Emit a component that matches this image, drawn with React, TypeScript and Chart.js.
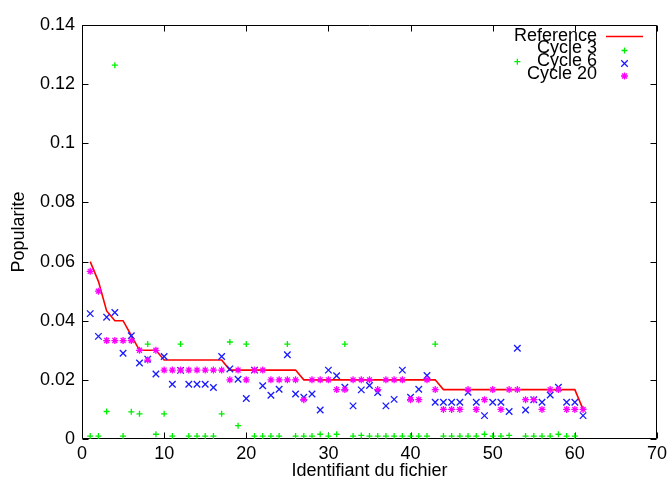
import React, { useEffect, useRef } from 'react';
import { Chart, registerables } from 'chart.js';
import { drawPoint } from 'chart.js/helpers';

Chart.register(...registerables);

const fileIds = [
  1, 2, 3, 4, 5, 6, 7, 8, 9, 10, 11, 12, 13, 14, 15, 16, 17, 18, 19, 20,
  21, 22, 23, 24, 25, 26, 27, 28, 29, 30, 31, 32, 33, 34, 35, 36, 37, 38, 39, 40,
  41, 42, 43, 44, 45, 46, 47, 48, 49, 50, 51, 52, 53, 54, 55, 56, 57, 58, 59, 60, 61,
];

const reference = [
  0.06, 0.0533, 0.0433, 0.04, 0.04, 0.035, 0.03, 0.03, 0.03, 0.0267,
  0.0267, 0.0267, 0.0267, 0.0267, 0.0267, 0.0267, 0.0267, 0.0233, 0.0233, 0.0233,
  0.0233, 0.0233, 0.0233, 0.0233, 0.0233, 0.0233, 0.02, 0.02, 0.02, 0.02,
  0.02, 0.02, 0.02, 0.02, 0.02, 0.02, 0.02, 0.02, 0.02, 0.02,
  0.02, 0.02, 0.02, 0.0167, 0.0167, 0.0167, 0.0167, 0.0167, 0.0167, 0.0167,
  0.0167, 0.0167, 0.0167, 0.0167, 0.0167, 0.0167, 0.0167, 0.0167, 0.0167, 0.0167, 0.01,
];

const cycle3 = [
  0.001, 0.001, 0.0093, 0.1264, 0.001, 0.0092, 0.0085, 0.0321, 0.0016, 0.0085,
  0.001, 0.0321, 0.001, 0.001, 0.001, 0.001, 0.0085, 0.0328, 0.0045, 0.0321,
  0.001, 0.001, 0.001, 0.001, 0.0321, 0.001, 0.001, 0.001, 0.0016, 0.001,
  0.0016, 0.0321, 0.001, 0.0012, 0.001, 0.001, 0.001, 0.001, 0.001, 0.001,
  0.001, 0.001, 0.0321, 0.001, 0.001, 0.001, 0.001, 0.001, 0.0016, 0.001,
  0.001, 0.0012, 0.1276, 0.001, 0.001, 0.001, 0.001, 0.0016, 0.001, 0.001, null,
];

const cycle6 = [
  0.0424, 0.0347, 0.0412, 0.0428, 0.029, 0.0349, 0.0257, 0.027, 0.022, 0.0279,
  0.0185, 0.0232, 0.0185, 0.0185, 0.0185, 0.0174, 0.0279, 0.0237, 0.0202, 0.0137,
  0.0233, 0.018, 0.0148, 0.0168, 0.0285, 0.0152, 0.0141, 0.0152, 0.0098, 0.0233,
  0.0214, 0.0175, 0.0112, 0.0166, 0.0181, 0.0157, 0.0112, 0.0134, 0.0233, 0.0141,
  0.0168, 0.0215, 0.0124, 0.0124, 0.0124, 0.0124, 0.0158, 0.0124, 0.0079, 0.0124,
  0.0124, 0.0093, 0.0307, 0.0098, 0.0133, 0.0124, 0.0149, 0.0175, 0.0124, 0.0124, 0.0079,
];

const cycle20 = [
  0.0567, 0.05, 0.0333, 0.0333, 0.0333, 0.0333, 0.03, 0.0267, 0.03, 0.0233,
  0.0233, 0.0233, 0.0233, 0.0233, 0.0233, 0.0233, 0.0233, 0.02, 0.0233, 0.02,
  0.0233, 0.0233, 0.02, 0.02, 0.02, 0.02, 0.0133, 0.02, 0.02, 0.02,
  0.0167, 0.0167, 0.02, 0.02, 0.02, 0.0167, 0.02, 0.02, 0.02, 0.0133,
  0.0133, 0.02, 0.0167, 0.01, 0.01, 0.01, 0.0167, 0.01, 0.0133, 0.0167,
  0.01, 0.0167, 0.0167, 0.0133, 0.0133, 0.01, 0.0167, 0.0167, 0.01, 0.01, 0.01,
];

const xTicks = [0, 10, 20, 30, 40, 50, 60, 70];
const yTicks = [0, 0.02, 0.04, 0.06, 0.08, 0.1, 0.12, 0.14];

const FONT = '"Liberation Sans", Arial, sans-serif';

const toPoints = (vals: (number | null)[]) =>
  fileIds.map((x, i) => ({ x, y: vals[i] }));

const framePlugin = {
  id: 'gnuFrame',
  beforeDatasetsDraw(chart: any) {
    const { ctx, chartArea: a, scales } = chart;
    ctx.save();
    ctx.strokeStyle = '#000';
    ctx.lineWidth = 1;
    const L = Math.round(a.left) + 0.5;
    const R = Math.round(a.right) - 0.5;
    const T = Math.round(a.top) + 0.5;
    const B = Math.round(a.bottom) - 0.5;
    ctx.beginPath();
    ctx.rect(L, T, R - L, B - T);
    ctx.stroke();
    const tl = 6;
    ctx.beginPath();
    xTicks.forEach((v) => {
      const px = Math.round(scales.x.getPixelForValue(v)) + 0.5;
      ctx.moveTo(px, B);
      ctx.lineTo(px, B - tl);
      ctx.moveTo(px, T);
      ctx.lineTo(px, T + tl);
    });
    yTicks.forEach((v) => {
      const py = Math.round(scales.y.getPixelForValue(v)) + 0.5;
      ctx.moveTo(L, py);
      ctx.lineTo(L + tl, py);
      ctx.moveTo(R, py);
      ctx.lineTo(R - tl, py);
    });
    ctx.stroke();
    ctx.restore();
  },
  afterDraw(chart: any) {
    const { ctx } = chart;
    const ds = chart.data.datasets;
    ctx.save();
    ctx.font = '18px ' + FONT;
    ctx.textAlign = 'right';
    ctx.textBaseline = 'middle';
    const textRight = 597;
    const rows = [36, 48.5, 61.5, 74];
    const sampleX1 = 606;
    const sampleX2 = 643;
    ds.forEach((d: any, i: number) => {
      ctx.fillStyle = '#000';
      ctx.fillText(d.label, textRight, rows[i]);
      if (i === 0) {
        ctx.strokeStyle = d.borderColor;
        ctx.lineWidth = d.borderWidth;
        ctx.beginPath();
        ctx.moveTo(sampleX1, 36.5);
        ctx.lineTo(sampleX2, 36.5);
        ctx.stroke();
      } else {
        ctx.strokeStyle = d.borderColor;
        ctx.fillStyle = d.borderColor;
        ctx.lineWidth = d.pointBorderWidth;
        drawPoint(
          ctx,
          { pointStyle: d.pointStyle, radius: d.pointRadius, rotation: 0, borderWidth: d.pointBorderWidth },
          (sampleX1 + sampleX2) / 2,
          rows[i] + 2
        );
      }
    });
    ctx.restore();
  },
};

export default function App() {
  const canvasRef = useRef<HTMLCanvasElement | null>(null);

  useEffect(() => {
    const canvas = canvasRef.current;
    if (!canvas) return;
    const chart = new Chart(canvas, {
      type: 'scatter',
      data: {
        datasets: [
          {
            label: 'Reference',
            data: toPoints(reference),
            showLine: true,
            borderColor: '#ff0000',
            backgroundColor: '#ff0000',
            borderWidth: 1.6,
            pointRadius: 0,
            tension: 0,
            order: 4,
          },
          {
            label: 'Cycle 3',
            data: toPoints(cycle3),
            showLine: false,
            borderColor: '#00ee00',
            backgroundColor: '#00ee00',
            pointStyle: 'cross',
            pointRadius: 3,
            pointBorderWidth: 1.3,
            borderWidth: 1,
            order: 3,
          },
          {
            label: 'Cycle 6',
            data: toPoints(cycle6),
            showLine: false,
            borderColor: '#1a1aff',
            backgroundColor: '#1a1aff',
            pointStyle: 'crossRot',
            pointRadius: 4.6,
            pointBorderWidth: 1.3,
            borderWidth: 1,
            order: 2,
          },
          {
            label: 'Cycle 20',
            data: toPoints(cycle20),
            showLine: false,
            borderColor: '#ff00ff',
            backgroundColor: '#ff00ff',
            pointStyle: 'star',
            pointRadius: 3.5,
            pointBorderWidth: 1.3,
            borderWidth: 1,
            order: 1,
          },
        ],
      },
      options: {
        animation: false,
        responsive: false,
        devicePixelRatio: 1,
        layout: { padding: { top: 25, right: 14, left: 0, bottom: 0 } },
        plugins: {
          legend: { display: false },
          tooltip: { enabled: false },
        },
        scales: {
          x: {
            type: 'linear',
            min: 0,
            max: 70,
            afterFit: (s: any) => {
              s.height = 38;
            },
            afterBuildTicks: (s: any) => {
              s.ticks = xTicks.map((v) => ({ value: v }));
            },
            grid: { display: false, drawTicks: false },
            border: { display: false },
            ticks: {
              padding: 4,
              color: '#000',
              font: { family: FONT, size: 18 },
              maxRotation: 0,
              callback: (v: any) => String(v),
            },
            title: {
              display: true,
              text: 'Identifiant du fichier',
              color: '#000',
              font: { family: FONT, size: 18, lineHeight: 1 },
              padding: { top: 0, bottom: -3 },
            },
          },
          y: {
            type: 'linear',
            min: 0,
            max: 0.14,
            afterFit: (s: any) => {
              s.width = 82;
            },
            afterBuildTicks: (s: any) => {
              s.ticks = yTicks.map((v) => ({ value: v }));
            },
            grid: { display: false, drawTicks: false },
            border: { display: false },
            ticks: {
              padding: 7,
              color: '#000',
              font: { family: FONT, size: 18 },
              callback: (v: any) => String(Number(Number(v).toFixed(2))),
            },
            title: {
              display: true,
              text: 'Popularite',
              color: '#000',
              font: { family: FONT, size: 18, lineHeight: 1 },
              padding: { top: 10, bottom: 0 },
            },
          },
        },
      },
      plugins: [framePlugin],
    } as any);
    return () => chart.destroy();
  }, []);

  return (
    <div style={{ position: 'fixed', left: 0, top: 0, width: 671, height: 477, background: '#fff' }}>
      <canvas ref={canvasRef} width={671} height={477} style={{ width: 671, height: 477, display: 'block' }} />
    </div>
  );
}
